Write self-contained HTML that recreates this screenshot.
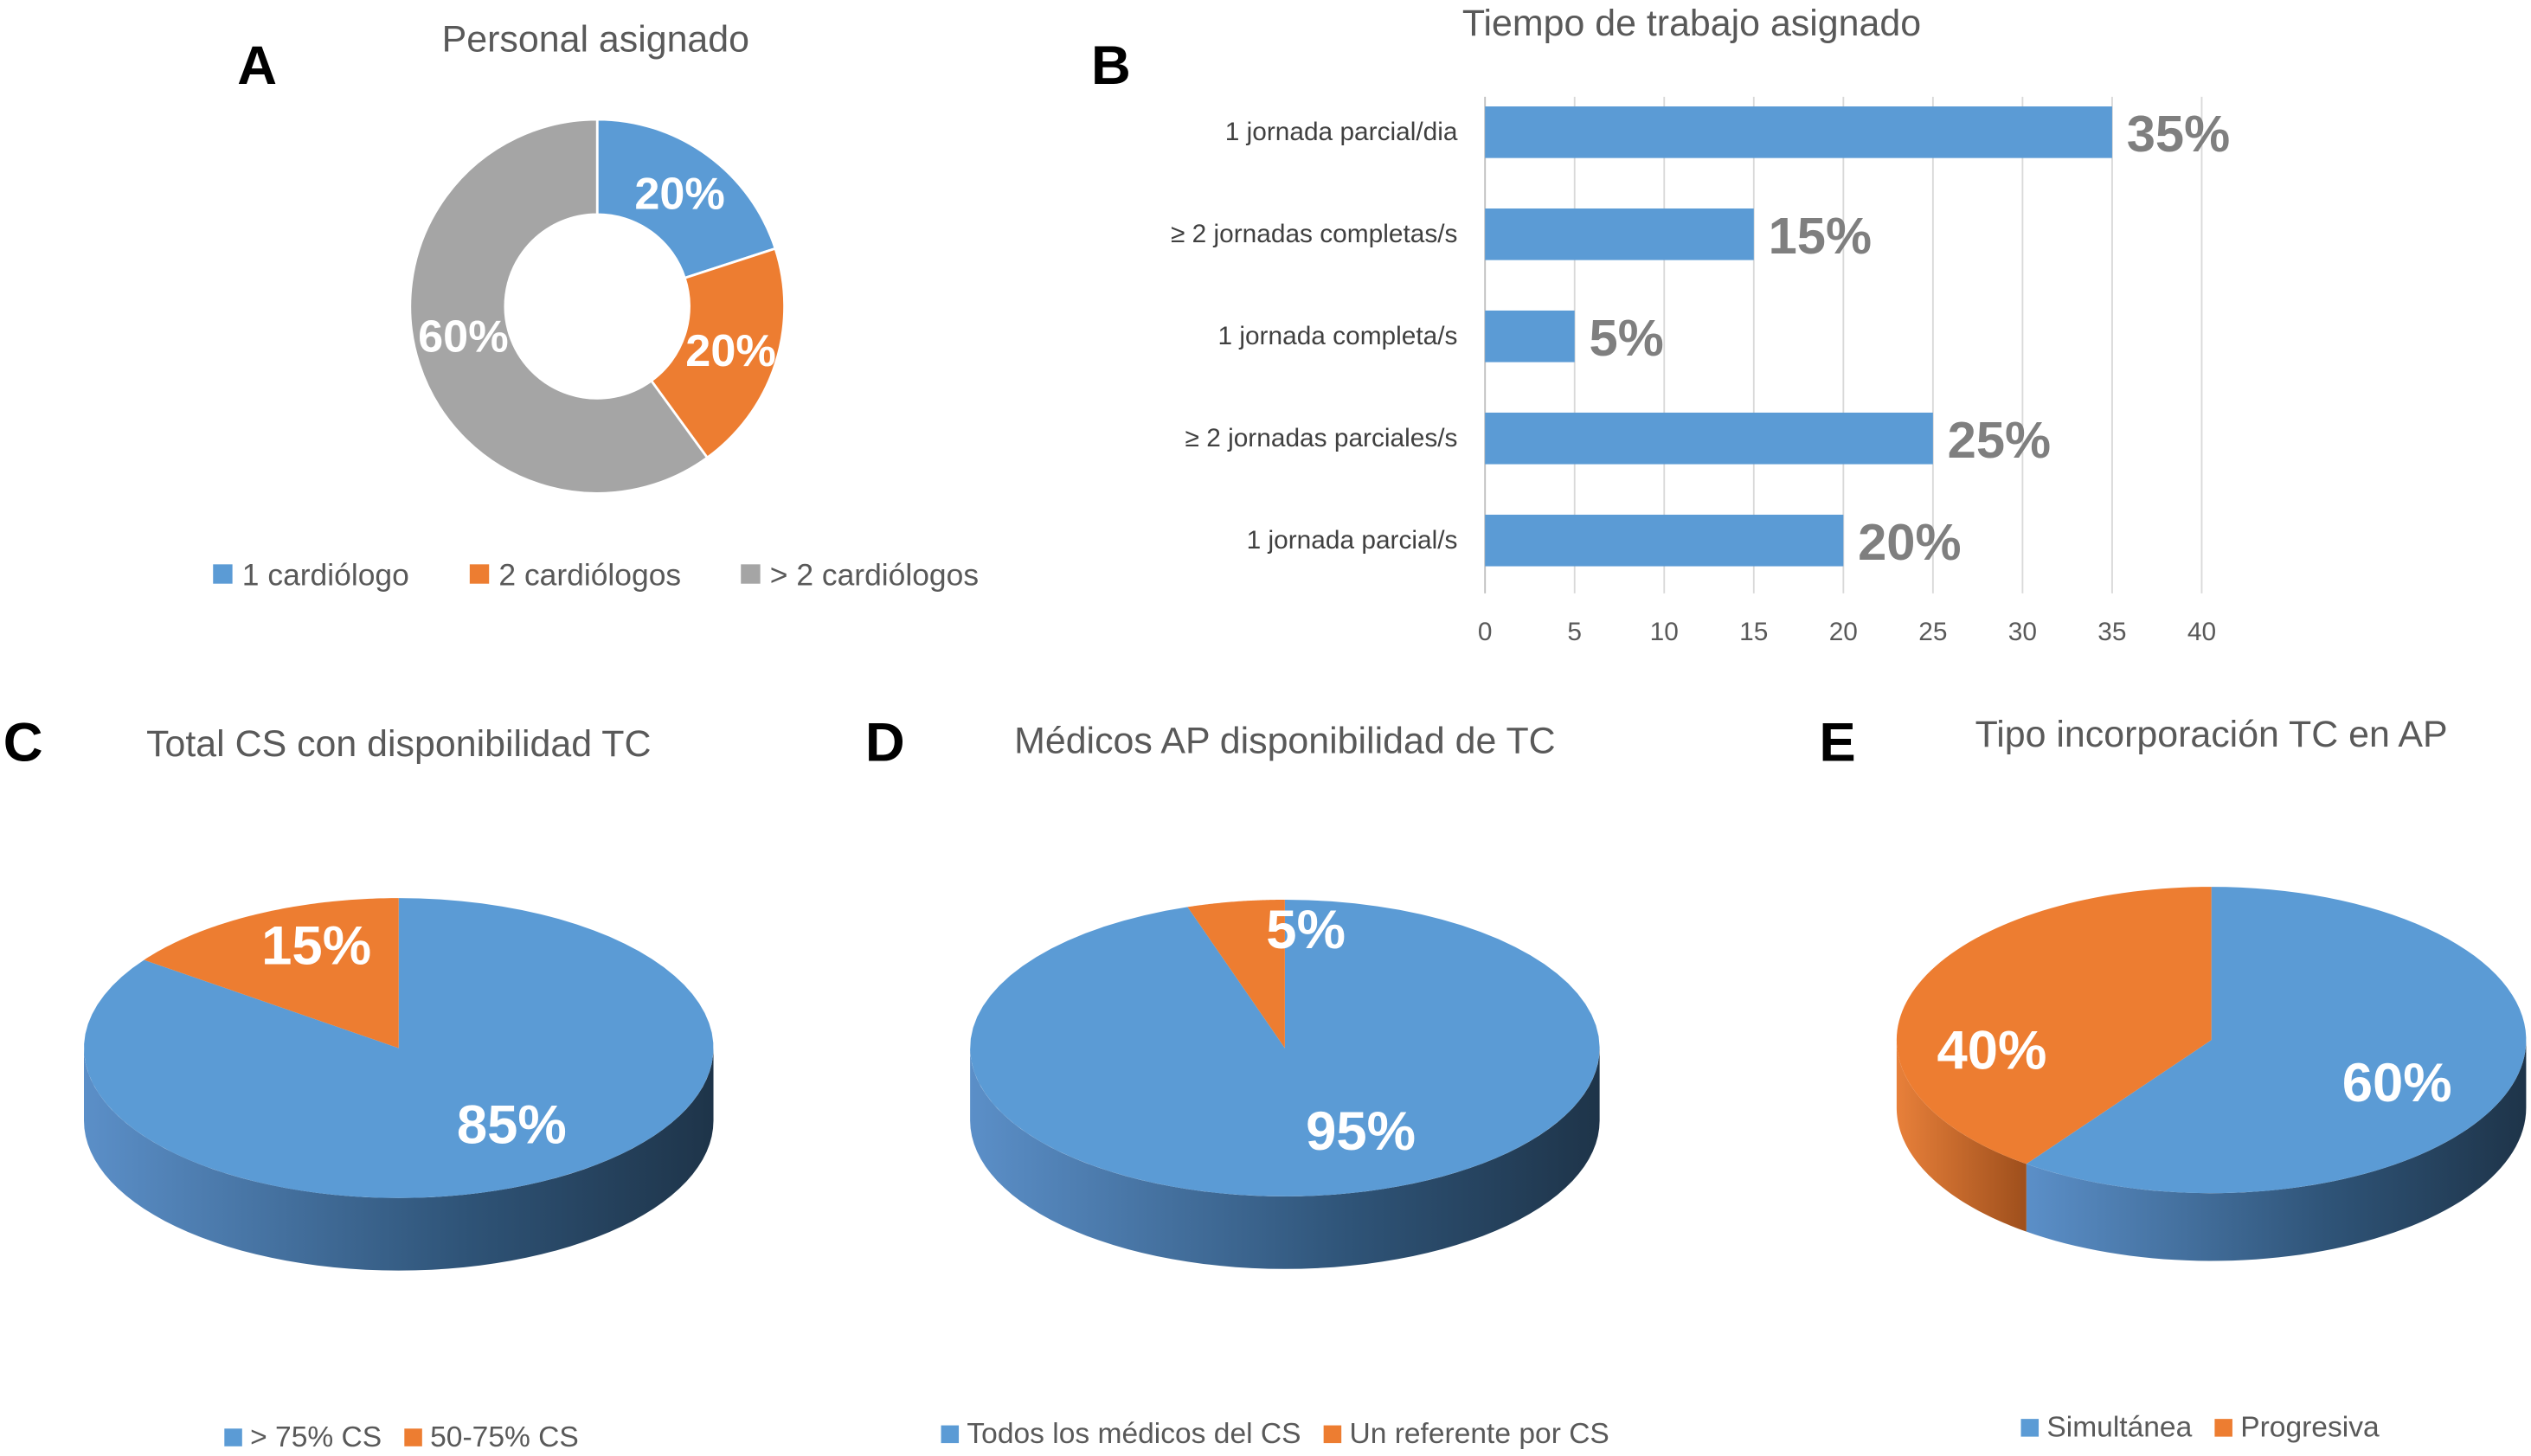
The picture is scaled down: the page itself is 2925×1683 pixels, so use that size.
<!DOCTYPE html>
<html><head><meta charset="utf-8"><style>
html,body{margin:0;padding:0;background:#fff}
svg{display:block;font-family:"Liberation Sans",sans-serif}
</style></head><body>
<svg id="c" width="2925" height="1683" viewBox="0 0 1568 903" preserveAspectRatio="none" xmlns="http://www.w3.org/2000/svg">
<defs>
<linearGradient id="gb" x1="0" x2="1" y1="0" y2="0"><stop offset="0" stop-color="#5b8fc8"/><stop offset="0.6" stop-color="#2f5478"/><stop offset="1" stop-color="#1e3449"/></linearGradient>
<linearGradient id="go" x1="0" x2="1" y1="0" y2="0"><stop offset="0" stop-color="#e8803a"/><stop offset="1" stop-color="#9e4f1c"/></linearGradient>
</defs>
<g fill="#000" font-weight="bold" font-size="34">
<text x="147" y="52">A</text>
<text x="676" y="52">B</text>
<text x="2" y="472">C</text>
<text x="536" y="472">D</text>
<text x="1127" y="472">E</text>
</g>
<g fill="#595959" font-size="23" text-anchor="middle">
<text x="369" y="32">Personal asignado</text>
<text x="1048" y="22">Tiempo de trabajo asignado</text>
<text x="247" y="469">Total CS con disponibilidad TC</text>
<text x="796" y="467">Médicos AP disponibilidad de TC</text>
<text x="1370" y="463">Tipo incorporación TC en AP</text>
</g>
<g id="A"></g><g id="B"></g><g id="C"></g><g id="D"></g><g id="E"></g>
</svg>
<script>
const NS="http://www.w3.org/2000/svg";
const donutLabels=["1 cardiólogo","2 cardiólogos","> 2 cardiólogos"];
const donutValues=[20,20,60];
const barCats=["1 jornada parcial/dia","≥ 2 jornadas completas/s","1 jornada completa/s","≥ 2 jornadas parciales/s","1 jornada parcial/s"];
const barValues=[35,15,5,25,20];
const barTicks=[0,5,10,15,20,25,30,35,40];
const pieCLabels=["> 75% CS","50-75% CS"];
const pieCValues=[85,15];
const pieDLabels=["Todos los médicos del CS","Un referente por CS"];
const pieDValues=[95,5];
const pieELabels=["Simultánea","Progresiva"];
const pieEValues=[60,40];
const COL=["#5b9bd5","#ed7d31","#a5a5a5"];
function el(p,t,a,txt){const e=document.createElementNS(NS,t);for(const k in a)e.setAttribute(k,a[k]);if(txt!==undefined)e.textContent=txt;p.appendChild(e);return e;}
(function(){const g=document.getElementById('A');const cx=370,cy=190,R=116,r=57;const tot=donutValues.reduce((a,b)=>a+b,0);let acc=0;
const lp=[[420,122],[452,218],[287,218]];
donutValues.forEach((v,i)=>{const a0=acc/tot*2*Math.PI,a1=(acc+v)/tot*2*Math.PI;acc+=v;
const P=(rr,a)=>[cx+rr*Math.sin(a),cy-rr*Math.cos(a)];const big=a1-a0>Math.PI?1:0;
const p1=P(R,a0),p2=P(R,a1),p3=P(r,a1),p4=P(r,a0);
const s=el(g,'path',{d:`M${p1}A${R},${R} 0 ${big} 1 ${p2}L${p3}A${r},${r} 0 ${big} 0 ${p4}Z`,fill:COL[i],stroke:'#fff','stroke-width':1.5});


const am=(a0+a1)/2;const lr=i==2?lp[2]:[cx+87*Math.sin(am),cy-87*Math.cos(am)+10];
const t=el(g,'text',{x:lr[0],y:lr[1],'text-anchor':'middle',fill:'#fff','font-size':28,'font-weight':'bold'},v+'%');

});
const lx=[132,291,459];donutLabels.forEach((l,i)=>{const r=el(g,'rect',{x:lx[i],y:350,width:12,height:12,fill:COL[i]});


const t=el(g,'text',{x:lx[i]+18,y:363,'font-size':19,fill:'#595959'},l);

});})();
(function(){const g=document.getElementById('B');const x0=920,x1=1364,vmax=40;const X=v=>x0+(x1-x0)*v/vmax;
const yTop=60,yBot=368,firstC=82,step=63.3;
barTicks.forEach(t=>{if(t>0){const l=el(g,'line',{x1:X(t),x2:X(t),y1:yTop,y2:yBot,stroke:'#d9d9d9','stroke-width':1});}
const tx=el(g,'text',{x:X(t),y:397,'text-anchor':'middle','font-size':16,fill:'#595959'},t);});
const ax=el(g,'line',{x1:x0,x2:x0,y1:yTop,y2:yBot,stroke:'#bfbfbf','stroke-width':1});
barCats.forEach((c,i)=>{const cy=firstC+step*i;
const b=el(g,'rect',{x:x0,y:cy-16,width:X(barValues[i])-x0,height:32,fill:COL[0]});


const t=el(g,'text',{x:903,y:cy+5,'text-anchor':'end','font-size':16,fill:'#404040'},c);


const v=el(g,'text',{x:X(barValues[i])+9,y:cy+12,'font-size':32,'font-weight':'bold',fill:'#7f7f7f'},barValues[i]+'%');

});})();
function pie3d(id,vals,labels,cx,cy,rx,ry,d,lpos,legx,legy,colors){const g=document.getElementById(id);const tot=vals.reduce((a,b)=>a+b,0);
const sl=[];let acc=0;vals.forEach((v,i)=>{sl.push([acc/tot*360,(acc+v)/tot*360]);acc+=v;});
const P=(a,dy)=>{const r=a*Math.PI/180;return [cx+rx*Math.sin(r),cy-ry*Math.cos(r)+dy];};
sl.forEach((s,i)=>{const a0=Math.max(s[0],90),a1=Math.min(s[1],270);if(a1<=a0)return;const pts=[];
for(let a=a0;a<=a1+1e-6;a+=(a1-a0)/60)pts.push(P(a,0));for(let a=a1;a>=a0-1e-6;a-=(a1-a0)/60)pts.push(P(a,d));
const p=el(g,'polygon',{points:pts.map(q=>q.join(',')).join(' '),fill:i==0?'url(#gb)':'url(#go)'});

});
sl.forEach((s,i)=>{const pts=[[cx,cy]];for(let a=s[0];a<=s[1]+1e-6;a+=(s[1]-s[0])/80)pts.push(P(a,0));
const p=el(g,'polygon',{points:pts.map(q=>q.join(',')).join(' '),fill:colors[i]});


const t=el(g,'text',{x:lpos[i][0],y:lpos[i][1],'text-anchor':'middle',fill:'#fff','font-size':34,'font-weight':'bold'},vals[i]+'%');

});
let x=legx;labels.forEach((l,i)=>{const r=el(g,'rect',{x:x,y:legy-11,width:11,height:11,fill:colors[i]});


const t=el(g,'text',{x:x+16,y:legy,'font-size':18,fill:'#595959'},l);


x+=16+t.getComputedTextLength()+14;});}
pie3d('C',pieCValues,pieCLabels,247,650,195,93,45,[[317,709],[196,598]],139,897,[COL[0],COL[1]]);
pie3d('D',pieDValues,pieDLabels,796,650,195,92,45,[[843,713],[809,588]],583,895,[COL[0],COL[1]]);
pie3d('E',pieEValues,pieELabels,1370,645,195,95,42,[[1485,683],[1234,663]],1252,891,[COL[0],COL[1]]);
</script>
</body></html>
